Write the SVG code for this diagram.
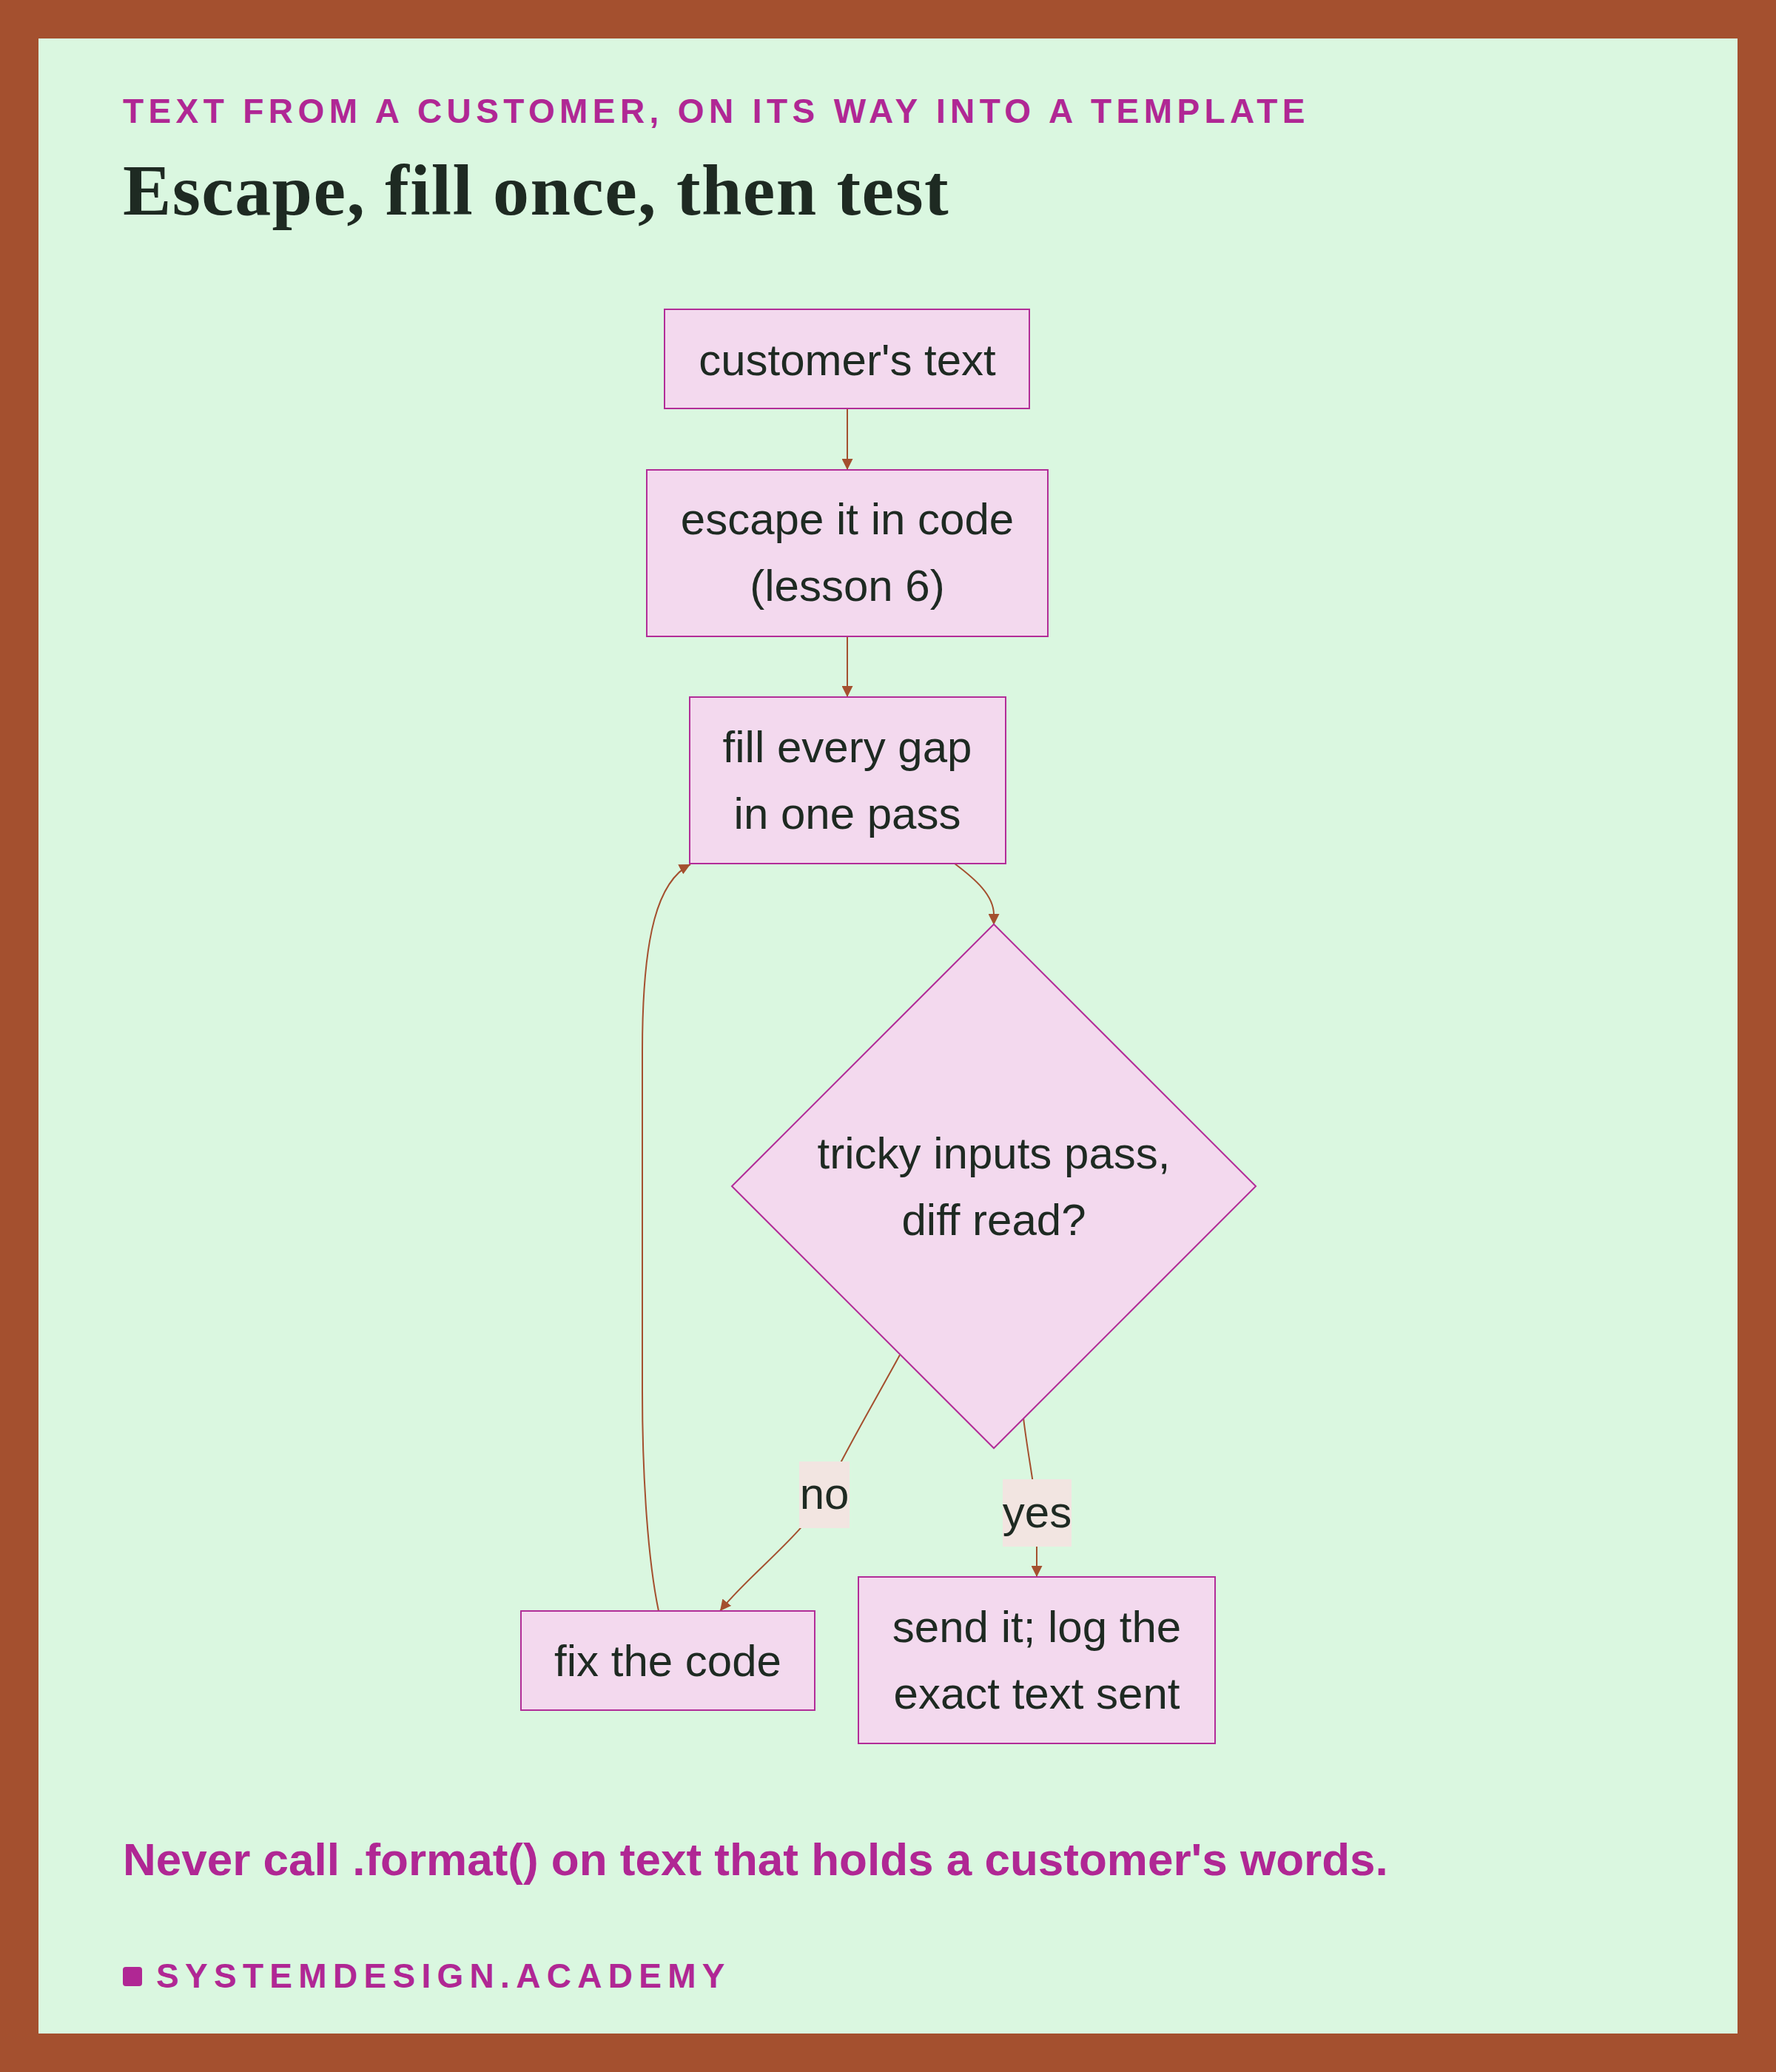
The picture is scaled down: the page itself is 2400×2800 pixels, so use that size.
<svg xmlns="http://www.w3.org/2000/svg" width="2400" height="2800" viewBox="0 0 2400 2800">
<style>
.frame{fill:#A4502F}
.bg{fill:#DAF7E0}
.node{fill:#F3D9EE;stroke:#B22D98;stroke-width:2}
.ntext{font-family:"Liberation Sans",Arial,sans-serif;font-size:60px;fill:#1E2A22;text-anchor:middle}
.edge{fill:none;stroke:#A4502F;stroke-width:2}
.lbg{fill:#F2E5E1}
.eyebrow{font-family:"Liberation Sans",Arial,sans-serif;font-weight:bold;font-size:46px;letter-spacing:6.4px;fill:#B02794}
.title{font-family:"Liberation Serif","Times New Roman",serif;font-weight:bold;font-size:98px;letter-spacing:1.4px;fill:#1E2A22}
.note{font-family:"Liberation Sans",Arial,sans-serif;font-weight:bold;font-size:62px;fill:#B02794}
.brand{font-family:"Liberation Sans",Arial,sans-serif;font-weight:bold;font-size:46px;letter-spacing:8.3px;fill:#B02794}
</style>
<defs>
<marker id="arrow" viewBox="0 0 10 10" refX="10" refY="5" markerUnits="userSpaceOnUse" markerWidth="15" markerHeight="15" orient="auto">
<path d="M0,0 L10,5 L0,10 z" fill="#A4502F"/>
</marker>
</defs>
<rect class="frame" x="0" y="0" width="2400" height="2800"/>
<rect class="bg" x="52" y="52" width="2296" height="2696"/>
<text class="eyebrow" x="166" y="166">TEXT FROM A CUSTOMER, ON ITS WAY INTO A TEMPLATE</text>
<text class="title" x="166" y="290">Escape, fill once, then test</text>
<g id="connectors">
<path class="edge" d="M1145,552 L1145,635" marker-end="url(#arrow)"/>
<path class="edge" d="M1145,860 L1145,942" marker-end="url(#arrow)"/>
<path class="edge" d="M1290,1167 C1318,1188 1343,1210 1343,1236 L1343,1250" marker-end="url(#arrow)"/>
<path class="edge" d="M1216,1831 C1180,1897 1140,1965 1114,2020 C1090,2070 1010,2130 973,2177" marker-end="url(#arrow)"/>
<path class="edge" d="M1383,1916 C1390,1975 1401,2020 1401,2060 L1401,2131" marker-end="url(#arrow)"/>
<path class="edge" d="M890,2177 C876,2110 868,2000 868,1880 L868,1420 C868,1260 890,1190 933,1168" marker-end="url(#arrow)"/>
<g id="label-no">
<rect class="lbg" x="1080" y="1975" width="68" height="90"/>
<text class="ntext" x="1114" y="2039">no</text>
</g>
<g id="label-yes">
<rect class="lbg" x="1355" y="1999" width="93" height="91"/>
<text class="ntext" x="1401.5" y="2064">yes</text>
</g>
</g>
<g id="node-customer">
<rect class="node" x="898" y="418" width="493" height="134"/>
<text class="ntext" x="1145" y="507">customer's text</text>
</g>
<g id="node-escape">
<rect class="node" x="874" y="635" width="542" height="225"/>
<text class="ntext" x="1145" y="722">escape it in code</text>
<text class="ntext" x="1145" y="812">(lesson 6)</text>
</g>
<g id="node-fill">
<rect class="node" x="932" y="942" width="427" height="225"/>
<text class="ntext" x="1145" y="1030">fill every gap</text>
<text class="ntext" x="1145" y="1120">in one pass</text>
</g>
<g id="node-decision">
<polygon class="node" points="1343,1249 1697,1603 1343,1957 989,1603"/>
<text class="ntext" x="1343" y="1579">tricky inputs pass,</text>
<text class="ntext" x="1343" y="1669">diff read?</text>
</g>
<g id="node-fix">
<rect class="node" x="704" y="2177" width="397" height="134"/>
<text class="ntext" x="902.5" y="2265">fix the code</text>
</g>
<g id="node-send">
<rect class="node" x="1160" y="2131" width="482" height="225"/>
<text class="ntext" x="1401" y="2219">send it; log the</text>
<text class="ntext" x="1401" y="2309">exact text sent</text>
</g>
<text class="note" x="166" y="2534">Never call .format() on text that holds a customer's words.</text>
<rect x="166" y="2658" width="26" height="26" rx="4" fill="#B02794"/>
<text class="brand" x="211" y="2686">SYSTEMDESIGN.ACADEMY</text>
</svg>
